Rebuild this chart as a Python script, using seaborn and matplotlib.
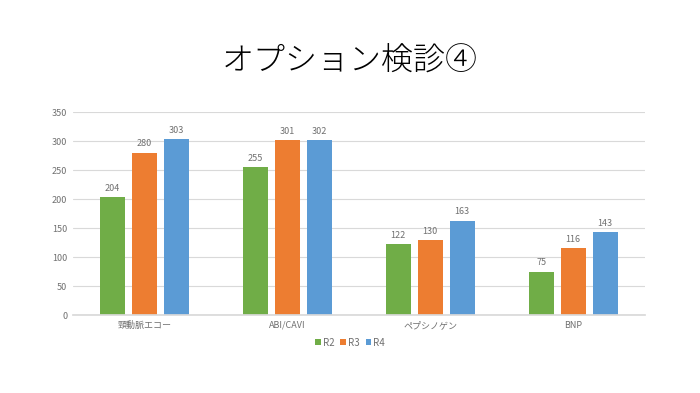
import pandas as pd
import matplotlib
matplotlib.use('Agg')
import matplotlib.pyplot as plt
import seaborn as sns

categories = ['頸動脈エコー', 'ABI/CAVI', 'ペプシノゲン', 'BNP']
years = ['R2', 'R3', 'R4']
r2 = [204, 255, 122, 75]
r3 = [280, 301, 130, 116]
r4 = [303, 302, 163, 143]
colors = ['#70AD47', '#ED7D31', '#5B9BD5']

df = pd.DataFrame({
    'item': categories * 3,
    'year': [y for y in years for _ in categories],
    'count': r2 + r3 + r4,
})

sns.set_theme(style='white')
plt.rcParams['font.family'] = ['Noto Sans CJK JP', 'DejaVu Sans']

fig = plt.figure(figsize=(7, 3.93), dpi=100)
ax = fig.add_axes([0.104, 0.198, 0.817, 0.517])

sns.barplot(data=df, x='item', y='count', hue='year', palette=colors,
            saturation=1, width=0.67, gap=0.22, linewidth=0, ax=ax, legend=True)

for cont in ax.containers:
    ax.bar_label(cont, padding=3, fontsize=6.5, color='#707070')

ax.set_ylim(0, 350)
ax.set_yticks(range(0, 351, 50))
ax.yaxis.grid(True, color='#D9D9D9', linewidth=0.8)
ax.set_axisbelow(True)
ax.set_xlabel('')
ax.set_ylabel('')
ax.tick_params(axis='both', labelsize=6.5, colors='#707070', length=0, pad=4)
for s in ['top', 'right', 'left']:
    ax.spines[s].set_visible(False)
ax.spines['bottom'].set_color('#D9D9D9')

handles, labels = ax.get_legend_handles_labels()
ax.legend_.remove()
fig.legend(handles, labels, loc='center', bbox_to_anchor=(0.5, 0.128), ncol=3,
           frameon=False, fontsize=7, handlelength=0.6, handleheight=0.6,
           handletextpad=0.2, columnspacing=0.6, labelcolor='#707070')

fig.text(0.5, 0.845, 'オプション検診④', ha='center', va='center', fontsize=23,
         color='black', fontweight='light')

fig.savefig('out.png', dpi=100, facecolor='white')
